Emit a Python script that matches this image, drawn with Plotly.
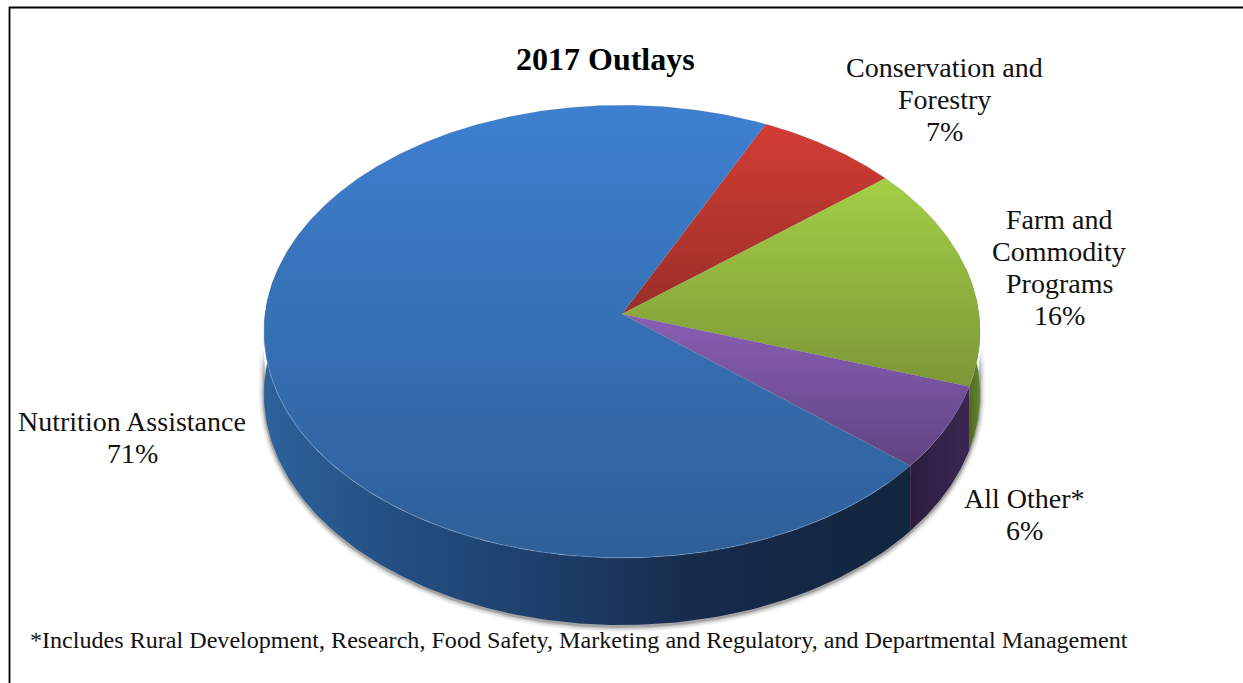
import numpy as np
import plotly.graph_objects as go

# Budget shares, clockwise from the top-right edge of the blue slice
categories = [["Conservation and", "Forestry"], ["Farm and", "Commodity", "Programs"], ["All Other*"], ["Nutrition Assistance"]]
shares = [7, 16, 6, 71]
top_colors = [("#d23d34", "#9a2e28"), ("#a3cf46", "#7c9736"), ("#8a5fb5", "#5f4480"), ("#3e80d0", "#2e5f98")]
wall_colors = [("#7a2420", "#7a2420"), ("#48601f", "#66852c"), ("#2d1c40", "#3b2752"), ("#2d629c", "#12263f")]
label_x = [944, 1059, 1024, 132]
label_top = [67, 219, 498, 421]
title_text = "2017 Outlays"
footnote = "*Includes Rural Development, Research, Food Safety, Marketing and Regulatory, and Departmental Management"

# Tilted-disc projection in pixel space
CX, CY = 622, 314
RX, RY = 357, 225
PERSP = 0.0773
DEPTH = 62
START_DEG = 25.5
LINE_STEP = 32
SERIF = "Liberation Serif"


def project(theta_deg, drop=0.0, grow=0.0):
    t = np.radians(theta_deg)
    X, Y = np.sin(t), np.cos(t)
    s = 1 / (1 + PERSP * Y)
    return CX + (RX + grow) * X * s, CY - (RY + grow) * Y * s + drop * s


fig = go.Figure()
line_off = dict(width=0)


def polygon(x, y, **kw):
    fig.add_trace(go.Scatter(x=x, y=y, mode="lines", fill="toself", hoverinfo="skip", showlegend=False, **kw))


# Soft cast shadow under the disc
theta_front = np.linspace(92, 268, 240)
for grow, alpha in [(5, 0.05), (3.5, 0.08), (2, 0.12), (1, 0.16)]:
    bx, by = project(theta_front, DEPTH + 1.5, grow)
    tx, ty = project(theta_front[::-1], 8, grow)
    polygon(np.r_[bx, tx], np.r_[by, ty], line=line_off, fillcolor=f"rgba(0,0,0,{alpha})")

# Slice boundaries come straight from the shares
edges = START_DEG + np.cumsum([0] + [v * 3.6 for v in shares])

# Side wall, only the front half of each slice can be seen
for i in range(len(shares)):
    a0, a1 = max(edges[i], 78), min(edges[i + 1], 282)
    if a1 <= a0:
        continue
    th = np.linspace(a0, a1, 160)
    x0, y0 = project(th)
    x1, y1 = project(th[::-1], DEPTH)
    px, py = np.r_[x0, x1], np.r_[y0, y1]
    left, right = wall_colors[i]
    if i == 3:
        scale = [[0, left], [0.2, "#234f82"], [0.45, "#1d3d68"], [0.68, "#162a4b"], [1, right]]
    else:
        scale = [[0, left], [1, right]]
    polygon(px, py, line=line_off, fillgradient=dict(type="horizontal", colorscale=scale))

# Top face, shaded from top to bottom
for i in range(len(shares)):
    th = np.linspace(edges[i], edges[i + 1], max(int(shares[i] * 8), 30))
    x, y = project(th)
    px, py = np.r_[CX, x, CX], np.r_[CY, y, CY]
    c0, c1 = top_colors[i]
    polygon(px, py, line=dict(width=0.5, color="rgba(120,120,120,0.25)"),
            fillgradient=dict(type="vertical", colorscale=[[0, c1], [1, c0]]))

# Pale rim along the front of the top face
th = np.linspace(135, 268, 200)
rx, ry = project(th)
fig.add_trace(go.Scatter(x=rx, y=ry, mode="lines", hoverinfo="skip", showlegend=False,
                         line=dict(width=1.2, color="rgba(150,190,235,0.3)")))

annotations = []
for lines, share, ax, ay in zip(categories, shares, label_x, label_top):
    for k, text in enumerate(lines + [f"{share}%"]):
        annotations.append(dict(x=ax, y=ay + k * LINE_STEP, xref="x", yref="y", text=text, showarrow=False,
                                align="center", font=dict(family=SERIF, size=28, color="#111111")))
annotations.append(dict(x=605, y=59, xref="x", yref="y", text=f"<b>{title_text}</b>", showarrow=False,
                        font=dict(family=SERIF, size=32, color="#000000")))
annotations.append(dict(x=28, y=640, xref="x", yref="y", xanchor="left", text=footnote, showarrow=False,
                        font=dict(family=SERIF, size=24.1, color="#111111")))

fig.update_layout(
    width=1243, height=683, margin=dict(l=0, r=0, t=0, b=0),
    paper_bgcolor="white", plot_bgcolor="white", showlegend=False,
    xaxis=dict(range=[0, 1243], visible=False, fixedrange=True),
    yaxis=dict(range=[683, 0], visible=False, fixedrange=True),
    annotations=annotations,
    shapes=[
        dict(type="line", x0=9, x1=1243, y0=7.5, y1=7.5, xref="x", yref="y", line=dict(color="black", width=1.8)),
        dict(type="line", x0=9.5, x1=9.5, y0=7, y1=683, xref="x", yref="y", line=dict(color="black", width=1.8)),
    ],
)
fig.write_html("out.html")
